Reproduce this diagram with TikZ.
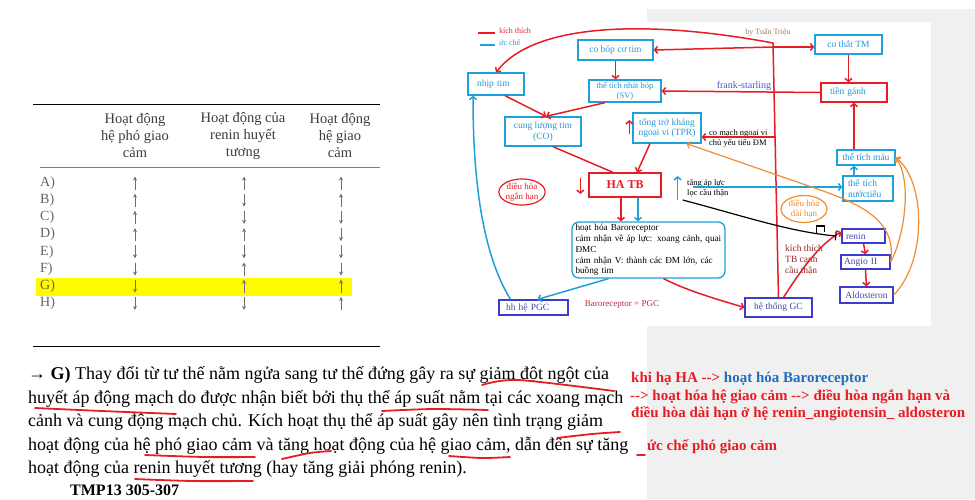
\documentclass[tikz,border=0pt]{standalone}
\usepackage{fontspec}
\setmainfont{Liberation Serif}
\newfontfamily\plainserif{Liberation Serif}
\usepackage{tikz}
\usetikzlibrary{arrows.meta,shapes.geometric,calc}

\definecolor{kred}{RGB}{232,28,36}
\definecolor{ublue}{RGB}{30,160,220}
\definecolor{utext}{RGB}{40,150,210}
\definecolor{dblue}{RGB}{60,60,205}
\definecolor{dtext}{RGB}{70,70,170}
\definecolor{orng}{RGB}{240,140,50}
\definecolor{brn}{RGB}{150,40,40}
\definecolor{fsblue}{RGB}{80,80,200}
\definecolor{pgcred}{RGB}{180,40,70}
\definecolor{byclr}{RGB}{170,120,90}
\definecolor{pgray}{RGB}{240,240,240}
\definecolor{hlyel}{RGB}{255,250,0}
\definecolor{bblue}{RGB}{31,110,190}
\definecolor{hgray}{RGB}{60,60,60}
\definecolor{rgray}{RGB}{100,100,100}
\definecolor{agray}{RGB}{110,110,110}

\newcommand{\pxfont}[2]{\fontsize{#1}{#2}\selectfont}

\begin{document}
\begin{tikzpicture}[x=1pt, y=-1pt,
    cbox/.style={draw=ublue, line width=1.3pt, text=utext, inner sep=0pt, align=center, font=\pxfont{9.5}{10.5}},
    rbox/.style={cbox, draw=kred},
    dbox/.style={cbox, draw=dblue, text=dtext},
    oval/.style={ellipse, line width=1.2pt, inner sep=0pt, align=center, font=\pxfont{9}{10}},
    kt/.style={draw=kred, line width=1.5pt, -{Straight Barb[length=3pt,width=7pt]}},
    uc/.style={kt, draw=ublue},
    oc/.style={kt, draw=orng, line width=1.2pt},
    note/.style={inner sep=0pt, anchor=west, align=left},
    uline/.style={draw=kred, line width=1.8pt, line cap=round},
    tarr/.style={draw=agray, line width=0.7pt, -{Stealth[length=4pt,width=4pt]}},
    thead/.style={inner sep=0pt, align=center, text=hgray, font=\pxfont{14.5}{17}},
    para/.style={inner sep=0pt, anchor=west, font=\pxfont{18}{21}},
    sumtxt/.style={note, text=kred, font=\plainserif\bfseries\pxfont{15}{17}}]

    \useasboundingbox (0,0) rectangle (975,499);
    % Background of the screenshot
    \fill[pgray] (647,9) rectangle (975,499);
    \fill[white] (647,22) rectangle (931,326);

    % Table
    \fill[hlyel] (36,278) rectangle (352,296);
    \draw[line width=0.8pt] (33,104) -- (380,104);
    \draw[gray, line width=0.6pt] (40,167) -- (380,167);
    \draw[line width=0.8pt] (33,346) -- (380,346);
    \node[thead] (hpgc) at (135,136) {Hoạt động\\hệ phó giao\\cảm};
    \node[thead] (hrenin) at (243,136) {Hoạt động của\\renin huyết\\tương};
    \node[thead] (hgc) at (340,136) {Hoạt động\\hệ giao\\cảm};
    \foreach \lab/\a/\b/\c [count=\i from 0] in
        {A/1/1/1, B/1/-1/1, C/1/-1/-1, D/1/1/-1, E/-1/-1/-1, F/-1/1/-1, G/-1/1/1, H/-1/-1/1}
    {
        \node[note, text=rgray, font=\pxfont{14}{15}] (row\lab) at (40,{183+17.2*\i}) {\lab)};
        \draw[tarr] (135,{183+17.2*\i+6.5*(\a)}) -- (135,{183+17.2*\i-6.5*(\a)});
        \draw[tarr] (244,{183+17.2*\i+6.5*(\b)}) -- (244,{183+17.2*\i-6.5*(\b)});
        \draw[tarr] (341,{183+17.2*\i+6.5*(\c)}) -- (341,{183+17.2*\i-6.5*(\c)});
    }

    % Paragraph
    \node[para] (l1) at (28,375) {\textbf{→ G)} Thay đổi từ tư thế nằm ngửa sang tư thế đứng gây ra sự giảm đột ngột của};
    \node[para] (l2) at (28,399) {huyết áp động mạch do được nhận biết bởi thụ thể áp suất nằm tại các xoang mạch};
    \node[para] (l3) at (28,422) {cảnh và cung động mạch chủ. Kích hoạt thụ thể áp suất gây nên tình trạng giảm};
    \node[para] (l4) at (28,446) {hoạt động của hệ phó giao cảm và tăng hoạt động của hệ giao cảm, dẫn đến sự tăng};
    \node[para] (l5) at (28,469) {hoạt động của renin huyết tương (hay tăng giải phóng renin).};
    \node[para, font=\bfseries\pxfont{16}{19}] (ref) at (70,490) {TMP13 305-307};

    % Red underlines
    \draw[uline] plot[smooth] coordinates {(482,385) (518,380) (614,391)};
    \draw[uline] plot[smooth] coordinates {(35,408) (102,411) (176,414)};
    \draw[uline] plot[smooth] coordinates {(382,411) (433,409) (488,410)};
    \draw[uline] plot[smooth] coordinates {(557,438) (592,434) (620,432)};
    \draw[uline] plot[smooth] coordinates {(145,455) (204,457) (255,457)};
    \draw[uline] plot[smooth] coordinates {(282,459) (310,453) (331,451)};
    \draw[uline] plot[smooth] coordinates {(449,456) (482,458) (510,457)};
    \draw[uline] plot[smooth] coordinates {(135,479) (192,481) (253,481)};
    \draw[uline] (637,455) -- (645,455);

    % Summary in red
    \node[sumtxt] (sum1) at (631,379) {khi hạ HA --> \textcolor{bblue}{hoạt hóa Baroreceptor}};
    \node[sumtxt] (sum2) at (630,397) {--> hoạt hóa hệ giao cảm --> điều hòa ngắn hạn và};
    \node[sumtxt] (sum3) at (631,414) {điều hòa dài hạn ở hệ renin\_angiotensin\_ aldosteron};
    \node[sumtxt] (sum4) at (647,447) {ức chế phó giao cảm};

    % Legend
    \node[note, text=kred, font=\pxfont{8}{9}] (lgkt) at (499,31) {kích thích};
    \node[note, text=ublue, font=\pxfont{8}{9}] (lguc) at (499,43) {ức chế};
    \draw[kred, line width=1.5pt] ($(lgkt.west)+(-4,2)$) -- ($(lgkt.west)+(-21,2)$);
    \draw[ublue, line width=1.5pt] ($(lguc.west)+(-4,2)$) -- ($(lguc.west)+(-19,2)$);
    \node[font=\pxfont{8}{9}, text=byclr] (by) at (768,32) {by Tuấn Triệu};

    % Boxes
    \node[cbox, minimum width=75pt, minimum height=20pt] (cobop) at (615.5,50) {co bóp cơ tim};
    \node[cbox, minimum width=56pt, minimum height=22pt, text width=38pt, align=left] (nhip) at (496,84) {nhịp tim};
    \node[cbox, font=\pxfont{8.5}{10}, minimum width=72pt, minimum height=22pt] (sv) at (625,91) {thể tích nhát bóp\\(SV)};
    \node[cbox, minimum width=76pt, minimum height=29pt] (co) at (543,131.5) {cung lượng tim\\(CO)};
    \node[cbox, minimum width=68pt, minimum height=30pt] (tpr) at (667,128) {tổng trở kháng\\ngoại vi (TPR)};
    \node[cbox, minimum width=67pt, minimum height=19pt] (cothat) at (848.5,44.5) {co thắt TM};
    \node[rbox, minimum width=66pt, minimum height=19pt, text width=48pt, align=left] (tien) at (854,92.5) {tiền gánh};
    \node[cbox, minimum width=58pt, minimum height=15pt] (ttmau) at (866,157.5) {thể tích máu};
    \node[cbox, minimum width=50pt, minimum height=25pt, text width=40pt, align=left] (ttnt) at (868,188.5) {thể tích\\nướctiểu};
    \node[rbox, text=kred, font=\bfseries\pxfont{12}{13}, minimum width=72pt, minimum height=24pt] (ha) at (625,185) {HA TB};
    \node[cbox, rounded corners=7pt, text=black, minimum width=153pt, minimum height=56pt, text width=146pt, align=left, font=\pxfont{9.2}{10.8}] (baro) at (648.5,250)
        {hoạt hóa Baroreceptor\\cảm nhận về áp lực: xoang cảnh, quai\\ĐMC\\cảm nhận V: thành các ĐM lớn, các\\buồng tim};
    \node[dbox, minimum width=69pt, minimum height=15pt, text width=55pt, align=left] (pgc) at (533.5,307.5) {hh hệ PGC};
    \node[dbox, minimum width=67pt, minimum height=19pt] (gc) at (778.5,307.5) {hệ thống GC};
    \node[dbox, minimum width=43pt, minimum height=14pt, text width=35pt, align=left] (renin) at (863.5,236) {renin};
    \node[dbox, minimum width=49pt, minimum height=14pt, text width=43pt, align=left] (angio) at (865.5,262) {Angio II};
    \node[dbox, minimum width=53pt, minimum height=16pt] (aldo) at (866.5,295) {Aldosteron};
    \node[oval, draw=kred, text=kred, minimum width=43pt, minimum height=26pt] (ngan) at (522,192) {điều hòa\\ngắn hạn};
    \node[oval, draw=orng, text=orng, minimum width=46pt, minimum height=27pt] (dai) at (804,209) {điều hòa\\dài hạn};

    % Labels
    \node[font=\pxfont{10}{11}, text=fsblue] (fs) at (744,86) {frank-starling};
    \node[note, font=\pxfont{8.5}{10}] (comach) at (709,138) {co mạch ngoại vi\\chủ yếu tiểu ĐM};
    \node[note, font=\pxfont{8.5}{10}] (tangal) at (687,188) {tăng áp lực\\lọc cầu thận};
    \node[note, font=\pxfont{9.5}{11}, text=brn] (kttb) at (785,260) {kích thích\\TB cạnh\\cầu thận};
    \node[font=\pxfont{9}{10}, text=pgcred] (bpgc) at (622,304) {Baroreceptor = PGC};

    % Red arrows (kich thich)
    \coordinate (bustop) at (773,43);
    \coordinate (bus1) at (773,47);
    \coordinate (bus2) at (775,137);
    \draw[kred, line width=1.5pt] (gc.north) -- (bustop);
    \draw[kt] (bus1) -- (cothat.west |- bus1);
    \draw[kt] (bus1) -- (cobop.east);
    \draw[kt] (bustop) .. controls (650,20) and (535,22) .. (nhip.north);
    \draw[kt] (bus2) -- (tpr.east |- bus2);
    \draw[kt] (tien.west) -- (sv.east);
    \draw[kt] (cothat.south) -- (cothat.south |- tien.north);
    \draw[kt] (tien.south |- ttmau.north) -- (tien.south);
    \draw[kt] (cobop.south) -- (cobop.south |- sv.north);
    \draw[kt] ($(nhip.south)+(9,0)$) -- ($(co.north)+(3,0)$);
    \draw[kt] ($(sv.south)+(-20,0)$) -- ($(co.north)+(3,0)$);
    \draw[kred, line width=1.5pt] ($(co.south)+(10,0)$) -- ($(ha.north)+(-12,0)$);
    \draw[kt] ($(tpr.south)+(-17,0)$) -- ($(ha.north)+(12,0)$);
    \draw[kt] ($(tpr.west)+(-3,6)$) -- ($(tpr.west)+(-3,-8)$);
    \draw[kt] ($(ha.west)+(-8,-7)$) -- ($(ha.west)+(-8,9)$);
    \coordinate (hak) at ($(ha.south)+(-4,0)$);
    \coordinate (hau) at ($(ha.south)+(13,0)$);
    \draw[kt] (hak) -- (hak |- baro.north);
    \draw[kt] ($(baro.south)+(15,0)$) .. controls (690,292) and (720,300) .. (gc.west);
    \draw[kt] ($(gc.north)+(5,0)$) .. controls (800,272) and (818,245) .. ($(renin.west)+(0,-4)$);
    \draw[kt] (renin.south) -- (angio.north);
    \draw[kt] (angio.south) -- (aldo.north);

    % Blue arrows (uc che)
    \draw[uc] (hau) -- (hau |- baro.north);
    \draw[uc] ($(ha.east)+(16,15)$) -- ($(ha.east)+(16,-9)$);
    \draw[uc] ($(baro.south)+(-40,0)$) -- ($(pgc.north)+(4,0)$);
    \draw[uc] ($(pgc.north)+(-23,0)$) .. controls (480,250) and (473,170) .. ($(nhip.south)+(-23,0)$);
    \coordinate (tal) at ($(tangal.west)+(6,-1)$);
    \draw[uc] (tal) -- (ttnt.west |- tal);
    \coordinate (tn) at ($(ttnt.north)+(-14,0)$);
    \draw[uc] (tn) -- (tn |- ttmau.south);

    % Black arrow HA TB to renin
    \draw[black, line width=1.2pt, -{Bar[width=9pt]}] ($(ha.east)+(21,15)$) .. controls (740,215) and (790,232) .. ($(renin.west)+(-5,0)$);
    \draw[black, line width=1.2pt] ($(renin.west)+(-25,-3)$) -- ++(0,-7) -- ++(8,0) -- ++(0,6);

    % Orange arrows
    \draw[oc] (angio.east) .. controls (898,215) and (850,200) .. (800,183) -- ($(tpr.south east)+(-15,0)$);
    \draw[oc] (angio.east) .. controls (905,235) and (912,180) .. (ttmau.east);
    \draw[oc] (aldo.east) .. controls (928,260) and (925,180) .. (ttmau.east);

\end{tikzpicture}
\end{document}
